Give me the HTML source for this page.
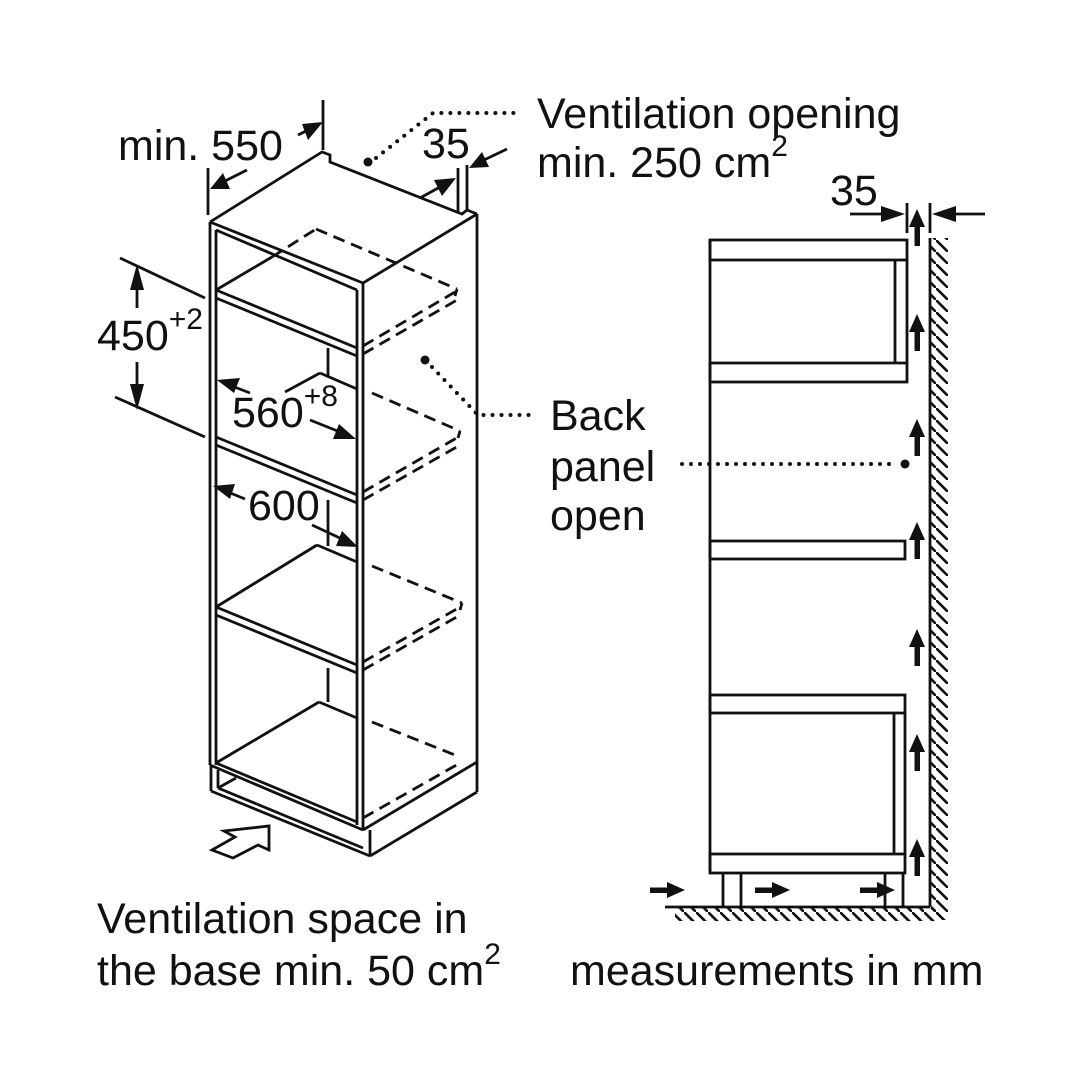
<!DOCTYPE html>
<html><head><meta charset="utf-8"><style>
html,body{margin:0;padding:0;background:#fff}
svg{display:block}
text{font-family:"Liberation Sans",Arial,sans-serif;fill:#111}
</style></head><body>
<svg width="1080" height="1080" viewBox="0 0 1080 1080" xmlns="http://www.w3.org/2000/svg">
<defs>
<pattern id="hw" width="12" height="12" patternUnits="userSpaceOnUse"><line x1="0" y1="0" x2="12" y2="12" stroke="#111" stroke-width="2.6"/></pattern>
</defs>
<g fill="none" stroke="#111" stroke-width="2.8" stroke-linejoin="miter">
<polyline points="210,222 322,152 330,155 330,162 462,214 467,210 477,214"/>
<line x1="363" y1="283" x2="477" y2="214"/>
<line x1="477" y1="214" x2="477" y2="792"/>
<line x1="210" y1="222" x2="210" y2="765"/>
<line x1="216" y1="230" x2="216" y2="765"/>
<line x1="357" y1="290" x2="357" y2="825"/>
<line x1="363" y1="283" x2="363" y2="830"/>
<line x1="210" y1="222" x2="363" y2="283"/>
<line x1="216" y1="230" x2="357" y2="290"/>
<line x1="216" y1="290" x2="357" y2="348"/>
<line x1="216" y1="298" x2="357" y2="356"/>
<line x1="216" y1="290" x2="272" y2="257"/>
<g stroke-dasharray="12,7">
<line x1="272" y1="257" x2="316" y2="229"/>
<line x1="316" y1="229" x2="457" y2="289"/>
<line x1="457" y1="289" x2="455" y2="296"/>
<line x1="363" y1="346" x2="455" y2="292"/>
<line x1="363" y1="354" x2="457" y2="300"/>
</g>
<line x1="328" y1="348" x2="328" y2="377"/>
<line x1="216" y1="437" x2="357" y2="495"/>
<line x1="216" y1="445" x2="357" y2="503"/>
<line x1="285" y1="392" x2="320" y2="373"/>
<line x1="320" y1="373" x2="357" y2="389"/>
<g stroke-dasharray="12,7">
<line x1="372" y1="393" x2="460" y2="431"/>
<line x1="460" y1="431" x2="458" y2="438"/>
<line x1="363" y1="492" x2="460" y2="436"/>
<line x1="363" y1="500" x2="462" y2="444"/>
</g>
<line x1="328" y1="500" x2="328" y2="546"/>
<line x1="216" y1="607" x2="357" y2="665"/>
<line x1="216" y1="615" x2="357" y2="673"/>
<line x1="216" y1="607" x2="317" y2="545"/>
<line x1="317" y1="545" x2="357" y2="562"/>
<g stroke-dasharray="12,7">
<line x1="372" y1="566" x2="462" y2="603"/>
<line x1="462" y1="603" x2="460" y2="610"/>
<line x1="363" y1="662" x2="462" y2="606"/>
<line x1="363" y1="670" x2="462" y2="614"/>
</g>
<line x1="328" y1="668" x2="328" y2="702"/>
<line x1="210" y1="765" x2="363" y2="830"/>
<line x1="216" y1="763" x2="357" y2="822"/>
<line x1="216" y1="763" x2="319" y2="702"/>
<line x1="319" y1="702" x2="357" y2="718"/>
<g stroke-dasharray="12,7">
<line x1="372" y1="722" x2="460" y2="757"/>
<line x1="363" y1="818" x2="460" y2="763"/>
</g>
<line x1="211" y1="765" x2="211" y2="791"/>
<line x1="218" y1="770" x2="218" y2="788"/>
<line x1="211" y1="791" x2="370" y2="856"/>
<line x1="218" y1="788" x2="363" y2="848"/>
<line x1="218" y1="788" x2="236" y2="778"/>
<line x1="370" y1="830" x2="370" y2="856"/>
<line x1="363" y1="830" x2="477" y2="762"/>
<line x1="370" y1="856" x2="477" y2="792"/>
<polygon points="224,831 269,826 269,850 258,845 233,858 212,850 235,837"/>
<line x1="323" y1="100" x2="323" y2="150"/>
<line x1="208" y1="168" x2="208" y2="215"/>
<line x1="298" y1="135" x2="310" y2="129"/>
<line x1="247" y1="170" x2="225" y2="181"/>
<line x1="458" y1="168" x2="458" y2="212"/>
<line x1="467" y1="165" x2="467" y2="210"/>
<line x1="420" y1="198" x2="440" y2="187"/>
<line x1="507" y1="149" x2="484" y2="160"/>
<line x1="120" y1="258" x2="205" y2="298"/>
<line x1="115" y1="397" x2="205" y2="437"/>
<line x1="137" y1="285" x2="137" y2="308"/>
<line x1="137" y1="362" x2="137" y2="388"/>
<line x1="250" y1="393" x2="232" y2="386"/>
<line x1="310" y1="420" x2="340" y2="432"/>
<line x1="245" y1="499" x2="228" y2="492"/>
<line x1="312" y1="525" x2="342" y2="539"/>
</g>
<g fill="#111" stroke="none">
<polygon points="323,122 302,124 308,140"/>
<polygon points="210,189 223,173 230,189"/>
<polygon points="456,178 434,180 442,196"/>
<polygon points="469,168 482,152 489,167"/>
<polygon points="137,264 130,290 144,290"/>
<polygon points="137,410 130,384 144,384"/>
<polygon points="217,380 240,378 234,393"/>
<polygon points="356,439 333,439 339,424"/>
<polygon points="213,486 235,484 230,499"/>
<polygon points="358,547 336,546 342,531"/>
<circle cx="368" cy="162" r="4.5"/>
<circle cx="425" cy="360" r="4.5"/>
<circle cx="905" cy="464" r="4.5"/>
</g>
<g fill="none" stroke="#111" stroke-width="4" stroke-linecap="round" stroke-dasharray="0,9">
<polyline points="376,158 433,113 515,113"/>
<polyline points="432,367 478,415 532,415"/>
<line x1="682" y1="464" x2="897" y2="464"/>
</g>
<g fill="none" stroke="#111" stroke-width="2.8">
<line x1="710" y1="240" x2="710" y2="873"/>
<rect x="710" y="240" width="197" height="20"/>
<rect x="710" y="363" width="197" height="19"/>
<line x1="895" y1="260" x2="895" y2="363"/>
<line x1="907" y1="260" x2="907" y2="363"/>
<rect x="710" y="541" width="195" height="18"/>
<rect x="710" y="695" width="195" height="18"/>
<rect x="710" y="854" width="195" height="19"/>
<line x1="894" y1="713" x2="894" y2="854"/>
<line x1="905" y1="713" x2="905" y2="854"/>
<line x1="723" y1="873" x2="723" y2="907"/>
<line x1="741" y1="873" x2="741" y2="907"/>
<line x1="885" y1="873" x2="885" y2="907"/>
<line x1="903" y1="873" x2="903" y2="907"/>
<line x1="665" y1="907" x2="930" y2="907"/>
<line x1="930" y1="238" x2="930" y2="907"/>
<line x1="907" y1="203" x2="907" y2="233"/>
<line x1="930" y1="203" x2="930" y2="233"/>
<line x1="850" y1="214" x2="888" y2="214"/>
<line x1="985" y1="214" x2="949" y2="214"/>
</g>
<rect x="931" y="238" width="17" height="682" fill="url(#hw)"/>
<rect x="675" y="908" width="262" height="13" fill="url(#hw)"/>
<g fill="#111">
<polygon points="905,214 881,206 881,222"/>
<polygon points="932,214 956,206 956,222"/>
<g id="ua"><polygon points="917,209 909,227 925,227"/><rect x="914.5" y="225" width="5.5" height="21"/></g>
<use href="#ua" y="105"/>
<use href="#ua" y="210"/>
<use href="#ua" y="313"/>
<use href="#ua" y="420"/>
<use href="#ua" y="525"/>
<use href="#ua" y="630"/>
<g id="ra"><rect x="650" y="887.5" width="19" height="5.5"/><polygon points="685,890 667,882 667,898"/></g>
<use href="#ra" x="105"/>
<use href="#ra" x="210"/>
</g>
<g font-size="43">
<text x="118" y="160">min. 550</text>
<text x="422" y="158">35</text>
<text x="537" y="128">Ventilation opening</text>
<text x="537" y="177">min. 250 cm<tspan font-size="30" dy="-21">2</tspan></text>
<text x="97" y="350">450<tspan font-size="30" dy="-21">+2</tspan></text>
<text x="232" y="427">560<tspan font-size="30" dy="-21">+8</tspan></text>
<text x="248" y="520">600</text>
<text x="550" y="430">Back</text>
<text x="550" y="481">panel</text>
<text x="550" y="530">open</text>
<text x="830" y="205">35</text>
<text x="97" y="933">Ventilation space in</text>
<text x="97" y="985">the base min. 50 cm<tspan font-size="30" dy="-21">2</tspan></text>
<text x="570" y="985">measurements in mm</text>
</g>
</svg>
</body></html>
